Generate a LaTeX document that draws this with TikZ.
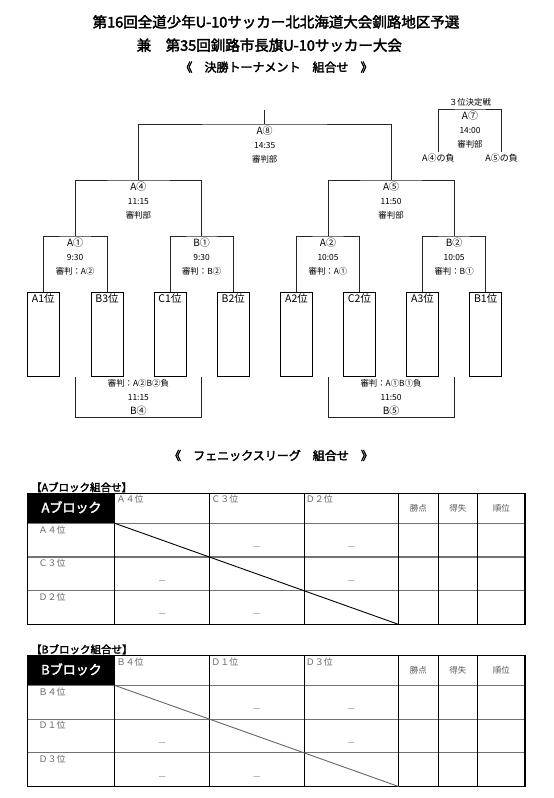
\documentclass[tikz,border=0pt]{standalone}
\usepackage{fontspec}
\setmainfont{Noto Sans CJK JP}[AutoFakeBold=2.5]
\tikzset{
  br/.style={draw=black!85, line width=0.9pt},
  slot/.style={draw=black, line width=0.9pt, minimum width=32pt, minimum height=84pt, inner sep=0pt},
  slottxt/.style={font=\fontsize{10.5}{12}\selectfont, anchor=north, inner sep=1pt},
  mnum/.style={font=\fontsize{10}{12}\selectfont, inner sep=0pt},
  mtxt/.style={font=\fontsize{8.4}{10}\selectfont, inner sep=0pt},
  ttl/.style={font=\fontsize{14.5}{17}\selectfont\bfseries, inner sep=0pt},
  ttlb/.style={font=\fontsize{12}{14}\selectfont\bfseries, inner sep=0pt},
  tlabel/.style={font=\fontsize{10.5}{12}\selectfont\bfseries, inner sep=0pt},
  blk/.style={font=\fontsize{13}{15}\selectfont\bfseries, text=white, inner sep=0pt},
  small/.style={font=\fontsize{9}{10}\selectfont, text=black!60, inner sep=0pt},
  hdr/.style={font=\fontsize{8.5}{10}\selectfont, text=black!65, inner sep=0pt},
  dashmark/.style={font=\fontsize{8}{9}\selectfont, text=black!55, inner sep=0pt},
  hl/.style={draw=black!55, line width=1.2pt},
  vthin/.style={draw=black, line width=0.6pt},
  vmid/.style={draw=black, line width=0.9pt},
  vthick/.style={draw=black, line width=1.2pt},
  outer/.style={draw=black, line width=1.4pt},
}
\newcommand\matchtext[4]{%
  \node[mnum, yshift=-6.7pt] (#1-n) at (#1) {#2};
  \node[mtxt, yshift=-21.5pt] (#1-t) at (#1) {#3};
  \node[mtxt, yshift=-35pt] (#1-r) at (#1) {#4};
}
\newcommand\leaguetable[8]{%
  \node[tlabel, anchor=base west] (#1-lab) at (31,#2-2) {#3};
  \begin{scope}[shift={(0,#2)}]
    \fill[black] (27.6,0) rectangle (114.8,30);
    \node[blk] (#1-blk) at (71.5,14) {#4};
    \draw[hl] (27.6,30) -- (525,30) (27.6,63.7) -- (525,63.7) (27.6,97.4) -- (525,97.4);
    \draw[vthin] (209.5,0) -- (209.5,131.1) (303.9,0) -- (303.9,131.1);
    \draw[vmid] (114.8,0) -- (114.8,131.1);
    \draw[vthick] (398.6,0) -- (398.6,131.1) (438.2,0) -- (438.2,131.1) (477.7,0) -- (477.7,131.1);
    \draw[outer] (27.6,0) rectangle (525,131.1);
    \draw[draw=#8, line width=0.9pt] (114.8,30) -- (398.6,131.1);
    \node[small, anchor=west] (#1-h1) at (116.5,6.2) {#5};
    \node[small, anchor=west] (#1-h2) at (211.2,6.2) {#6};
    \node[small, anchor=west] (#1-h3) at (305.6,6.2) {#7};
    \node[small, anchor=west] (#1-r1) at (38.5,36.3) {#5};
    \node[small, anchor=west] (#1-r2) at (38.5,70) {#6};
    \node[small, anchor=west] (#1-r3) at (38.5,103.7) {#7};
    \node[hdr] (#1-s1) at (418.4,15) {勝点};
    \node[hdr] (#1-s2) at (457.95,15) {得失};
    \node[hdr] (#1-s3) at (501.35,15) {順位};
    \node[dashmark] (#1-d12) at (256.7,55) {—};
    \node[dashmark] (#1-d13) at (351.25,55) {—};
    \node[dashmark] (#1-d21) at (162.15,88.7) {—};
    \node[dashmark] (#1-d23) at (351.25,88.7) {—};
    \node[dashmark] (#1-d31) at (162.15,122.4) {—};
    \node[dashmark] (#1-d32) at (256.7,122.4) {—};
  \end{scope}
}
\begin{document}
\begin{tikzpicture}[x=1pt,y=-1pt]
\useasboundingbox (0,0) rectangle (554,798);
\fill[white] (0,0) rectangle (554,798);

% titles
\node[ttl] (t1) at (276,21.9) {第16回全道少年U-10サッカー北北海道大会釧路地区予選};
\node[ttl] (t2) at (269.3,45.2) {兼　第35回釧路市長旗U-10サッカー大会};
\node[ttlb] (t3) at (276.5,67.1) {《　決勝トーナメント　組合せ　》};

% slots
\foreach \n/\x/\t in {A1/43.3/A1位, B3/107/B3位, C1/170/C1位, B2/233.3/B2位,
                      A2/296.5/A2位, C2/359.5/C2位, A3/422.5/A3位, B1/485.7/B1位}{
  \node[slot] (s\n) at (\x,334.7) {};
  \node[slottxt] (st\n) at (s\n.north) {\t};
}

% match points
\coordinate (mA1) at (75.15,236);
\coordinate (mB1) at (201.65,236);
\coordinate (mA2) at (328,236);
\coordinate (mB2) at (454.1,236);
\coordinate (mA4) at (138.4,180);
\coordinate (mA5) at (391.05,180);
\coordinate (mA8) at (264.7,124);
\coordinate (topend) at (264.7,110);

\draw[br] (sA1.north) |- (mA1) -| (sB3.north);
\draw[br] (sC1.north) |- (mB1) -| (sB2.north);
\draw[br] (sA2.north) |- (mA2) -| (sC2.north);
\draw[br] (sA3.north) |- (mB2) -| (sB1.north);
\draw[br] (mA1) |- (mA4) -| (mB1);
\draw[br] (mA2) |- (mA5) -| (mB2);
\draw[br] (mA4) |- (mA8) -| (mA5);
\draw[br] (mA8) -- (topend);

\matchtext{mA8}{A⑧}{14:35}{審判部}
\matchtext{mA4}{A④}{11:15}{審判部}
\matchtext{mA5}{A⑤}{11:50}{審判部}
\matchtext{mA1}{A①}{9:30}{審判：A②}
\matchtext{mB1}{B①}{9:30}{審判：B②}
\matchtext{mA2}{A②}{10:05}{審判：A①}
\matchtext{mB2}{B②}{10:05}{審判：B①}

% lower brackets
\coordinate (bB4) at (138.4,417.7);
\coordinate (bB5) at (391.05,417.7);
\draw[br] (mA1 |- sA1.south) |- (bB4) -| (mB1 |- sA1.south);
\draw[br] (mA2 |- sA1.south) |- (bB5) -| (mB2 |- sA1.south);
\node[mtxt] (bB4-r) at (138.4,383.3) {審判：A②B②負};
\node[mtxt] (bB4-t) at (138.4,397.7) {11:15};
\node[mnum] (bB4-n) at (138.4,410.7) {B④};
\node[mtxt] (bB5-r) at (391.05,383.3) {審判：A①B①負};
\node[mtxt] (bB5-t) at (391.05,397.7) {11:50};
\node[mnum] (bB5-n) at (391.05,410.7) {B⑤};

% third place
\coordinate (m7) at (470,109);
\node[mtxt] (l3rd) at (470,102) {３位決定戦};
\node[mtxt, font=\fontsize{9}{10}\selectfont] (lose4) at (438.3,157.7) {A④の負};
\node[mtxt, font=\fontsize{9}{10}\selectfont] (lose5) at (501.7,157.7) {A⑤の負};
\draw[br] ([yshift=1.5pt]lose4.north) |- (m7) -| ([yshift=1.5pt]lose5.north);
\matchtext{m7}{A⑦}{14:00}{審判部}

% league
\node[ttlb] (t4) at (271,455.5) {《　フェニックスリーグ　組合せ　》};
\leaguetable{A}{493.3}{【Aブロック組合せ】}{Aブロック}{Ａ４位}{Ｃ３位}{Ｄ２位}{black}
\leaguetable{B}{655.4}{【Bブロック組合せ】}{Bブロック}{Ｂ４位}{Ｄ１位}{Ｄ３位}{black!60}
\end{tikzpicture}
\end{document}
